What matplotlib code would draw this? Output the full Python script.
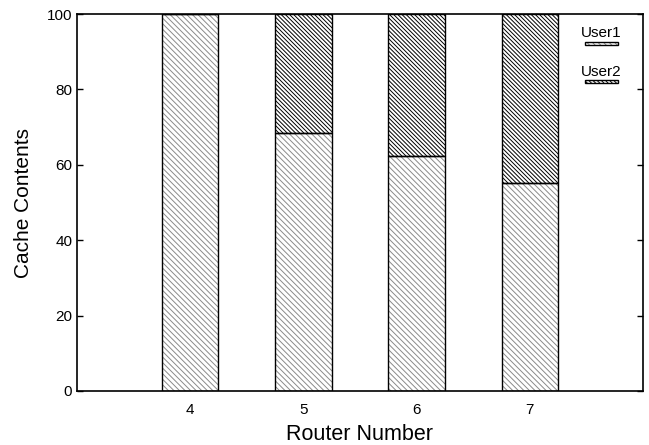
import matplotlib
matplotlib.use('Agg')
import matplotlib.pyplot as plt
from matplotlib.patches import Rectangle

plt.rcParams['font.family'] = ['Liberation Sans', 'DejaVu Sans']
plt.rcParams['hatch.linewidth'] = 0.7

routers = [4, 5, 6, 7]
user1 = [100, 68.4, 62.4, 55.2]
user2 = [0, 31.6, 37.6, 44.8]
bar_width = 0.5

hatch1 = '\\' * 6
hatch2 = '\\' * 8

fig = plt.figure(figsize=(6.49, 4.45), dpi=100)
ax = fig.add_axes([77 / 649, (445 - 391) / 445, 566 / 649, 377 / 445])

# hatch fill, then black outline on top
ax.bar(routers, user1, width=bar_width, color='white', edgecolor='#8a8a8a',
       hatch=hatch1, linewidth=0)
ax.bar(routers, user2, bottom=user1, width=bar_width, color='white',
       edgecolor='black', hatch=hatch2, linewidth=0)
ax.bar(routers, user1, width=bar_width, fill=False, edgecolor='black', linewidth=1)
ax.bar(routers, user2, bottom=user1, width=bar_width, fill=False,
       edgecolor='black', linewidth=1)

ax.set_xlim(3, 8)
ax.set_ylim(0, 100)
ax.set_xticks(routers)
ax.set_yticks(range(0, 101, 20))
ax.tick_params(direction='in', length=4, width=1, labelsize=11,
               top=False, right=True)
ax.tick_params(axis='x', length=0, pad=9)
for s in ax.spines.values():
    s.set_linewidth(1.2)

ax.set_xlabel('Router Number', fontsize=15.5, labelpad=5)
ax.set_ylabel('Cache Contents', fontsize=15, labelpad=10)

# legend, gnuplot style: label above small sample box
ax.text(0.926, 0.950, 'User1', transform=ax.transAxes, ha='center', va='center', fontsize=11)
ax.add_patch(Rectangle((0.897, 0.918), 0.058, 0.009, transform=ax.transAxes,
                       facecolor='white', edgecolor='#8a8a8a', hatch=hatch1, linewidth=0))
ax.add_patch(Rectangle((0.897, 0.918), 0.058, 0.009, transform=ax.transAxes,
                       fill=False, edgecolor='black', linewidth=1))
ax.text(0.926, 0.846, 'User2', transform=ax.transAxes, ha='center', va='center', fontsize=11)
ax.add_patch(Rectangle((0.897, 0.817), 0.058, 0.009, transform=ax.transAxes,
                       facecolor='white', edgecolor='black', hatch=hatch2, linewidth=0))
ax.add_patch(Rectangle((0.897, 0.817), 0.058, 0.009, transform=ax.transAxes,
                       fill=False, edgecolor='black', linewidth=1))

fig.savefig('out.png', dpi=100)
